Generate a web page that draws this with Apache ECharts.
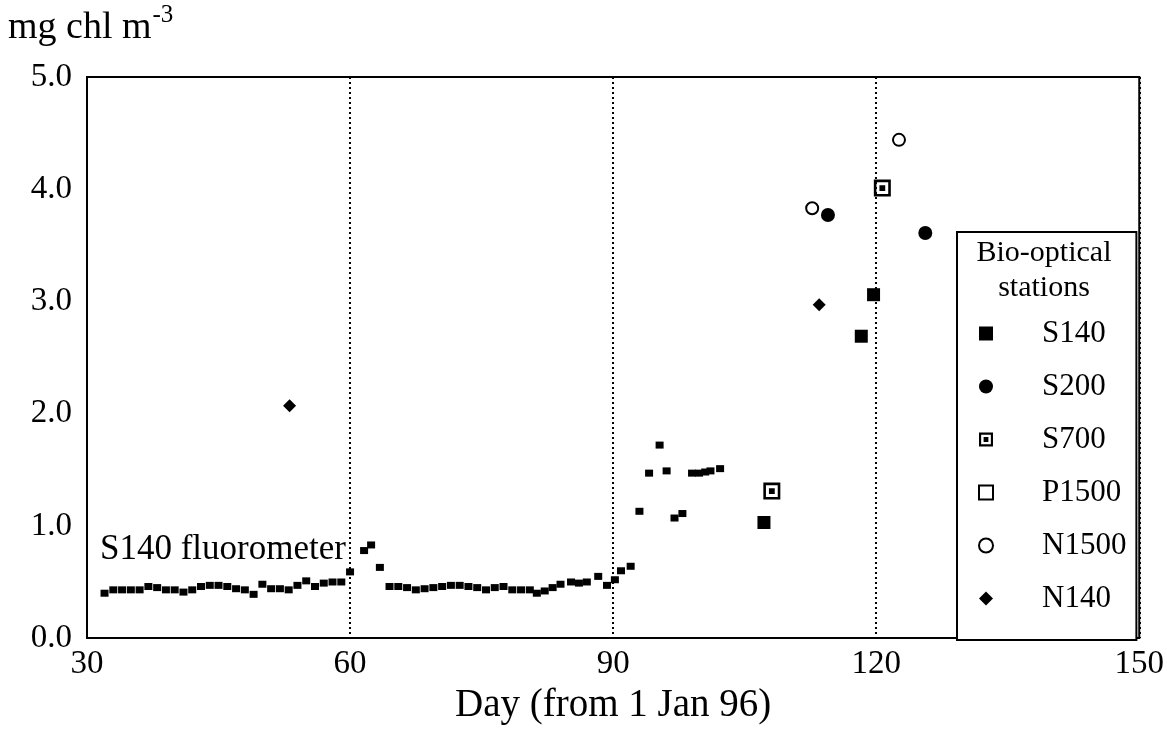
<!DOCTYPE html>
<html>
<head>
<meta charset="utf-8">
<script src="https://cdn.jsdelivr.net/npm/echarts@6/dist/echarts.min.js"></script>
<style>
  html, body { margin: 0; padding: 0; background: #fff; }
  #chart { width: 1167px; height: 730px; }
</style>
</head>
<body>
<div id="chart"></div>
<script>
// S140 fluorometer, [day, mg chl m-3]
var fluoro = [
  [32, 0.40], [33, 0.43], [34, 0.43], [35, 0.43], [36, 0.43], [37, 0.46], [38, 0.45],
  [39, 0.43], [40, 0.43], [41, 0.41], [42, 0.43], [43, 0.46], [44, 0.47], [45, 0.47],
  [46, 0.46], [47, 0.44], [48, 0.43], [49, 0.39], [50, 0.48], [51, 0.44], [52, 0.44],
  [53, 0.43], [54, 0.47], [55, 0.51], [56, 0.46], [57, 0.49], [58, 0.50], [59, 0.50],
  [60, 0.59], [61.6, 0.78], [62.4, 0.83], [63.4, 0.63], [64.5, 0.46], [65.5, 0.46],
  [66.5, 0.45], [67.5, 0.43], [68.5, 0.44], [69.5, 0.45], [70.5, 0.46], [71.5, 0.47],
  [72.5, 0.47], [73.5, 0.46], [74.5, 0.45], [75.5, 0.43], [76.5, 0.45], [77.5, 0.46],
  [78.5, 0.43], [79.5, 0.43], [80.5, 0.43], [81.3, 0.40], [82.2, 0.42], [83.1, 0.45],
  [84, 0.48], [85.2, 0.50], [86.1, 0.49], [87, 0.50], [88.3, 0.55], [89.3, 0.47],
  [90.2, 0.52], [90.9, 0.60], [92, 0.64], [93, 1.13], [94.1, 1.47], [95.3, 1.72],
  [96.1, 1.49], [97, 1.07], [97.9, 1.11], [99, 1.47], [99.8, 1.47], [100.5, 1.48],
  [101.1, 1.49], [102.2, 1.51]
];

// bio-optical stations
var s140 = [[107.2, 1.03], [118.3, 2.69], [119.7, 3.06]];
var s200 = [[114.5, 3.77], [125.6, 3.61]];
var s700 = [[108.1, 1.31], [120.7, 4.01]];
var p1500 = [];
var n1500 = [[112.7, 3.83], [122.6, 4.44]];
var n140 = [[53.1, 2.07], [113.5, 2.97]];

var stationNames = ['S140', 'S200', 'S700', 'P1500', 'N1500', 'N140'];

var serif = 'Liberation Serif';
var ringSquare = 'path://M0,0H17V17H0Z M2.6,2.6V14.4H14.4V2.6Z M5.6,5.6H11.4V11.4H5.6Z';

var chart = echarts.init(document.getElementById('chart'));

var option = {
  animation: false,
  backgroundColor: '#fff',
  grid: {
    left: 87, right: 27, top: 77, bottom: 90,
    show: true, borderColor: '#000', borderWidth: 2
  },
  xAxis: {
    type: 'value',
    min: 30, max: 150, interval: 30,
    name: 'Day (from 1 Jan 96)',
    nameLocation: 'middle',
    nameGap: 39,
    nameTextStyle: { fontFamily: serif, fontSize: 39, color: '#000' },
    axisLine: { lineStyle: { color: '#000', width: 2 } },
    axisTick: { show: false },
    axisLabel: { fontFamily: serif, fontSize: 33, color: '#000', margin: 10 },
    splitLine: { show: true, lineStyle: { color: '#000', width: 2, type: [2, 3] } }
  },
  yAxis: {
    type: 'value',
    min: 0, max: 5, interval: 1,
    axisLine: { show: true, lineStyle: { color: '#000', width: 2 } },
    axisTick: { show: false },
    axisLabel: {
      fontFamily: serif, fontSize: 33, color: '#000', margin: 15,
      formatter: function (v) { return v.toFixed(1); }
    },
    splitLine: { show: false }
  },
  legend: {
    data: stationNames,
    orient: 'vertical',
    left: 957, top: 232,
    padding: [86, 10, 26, 21],
    itemGap: 22,
    itemWidth: 14, itemHeight: 14,
    backgroundColor: '#fff',
    borderColor: '#000', borderWidth: 2,
    selectedMode: false,
    textStyle: {
      fontFamily: serif, fontSize: 31, color: '#000',
      padding: [0, 0, 0, 44], lineHeight: 31
    }
  },
  graphic: [
    {
      type: 'text', left: 8, top: 3,
      style: {
        text: '{a|mg chl m}{b|-3}',
        rich: {
          a: { fontFamily: serif, fontSize: 38, fill: '#000', verticalAlign: 'bottom' },
          b: { fontFamily: serif, fontSize: 25, fill: '#000', padding: [0, 0, 19, 1] }
        }
      }
    },
    {
      type: 'text', left: 100, top: 532,
      style: { text: 'S140 fluorometer', fontFamily: serif, fontSize: 35, fill: '#000' }
    },
    {
      type: 'text', x: 1044, y: 236, z: 100,
      style: {
        text: 'Bio-optical\nstations', fontFamily: serif, fontSize: 30, lineHeight: 35,
        fill: '#000', align: 'center'
      }
    }
  ],
  series: [
    {
      name: 'S140 fluorometer', type: 'scatter', data: fluoro,
      symbol: 'rect', symbolSize: [8, 7],
      itemStyle: { color: '#000', opacity: 1 }
    },
    {
      name: 'S140', type: 'scatter', data: s140,
      symbol: 'rect', symbolSize: 13,
      itemStyle: { color: '#000', opacity: 1 }
    },
    {
      name: 'S200', type: 'scatter', data: s200,
      symbol: 'circle', symbolSize: 14,
      itemStyle: { color: '#000', opacity: 1 }
    },
    {
      name: 'S700', type: 'scatter', data: s700,
      symbol: ringSquare, symbolSize: 17,
      itemStyle: { color: '#000', opacity: 1 }
    },
    {
      name: 'P1500', type: 'scatter', data: p1500,
      symbol: 'rect', symbolSize: 11,
      itemStyle: { color: '#fff', borderColor: '#000', borderWidth: 2, opacity: 1 }
    },
    {
      name: 'N1500', type: 'scatter', data: n1500,
      symbol: 'circle', symbolSize: 12,
      itemStyle: { color: '#fff', borderColor: '#000', borderWidth: 2, opacity: 1 }
    },
    {
      name: 'N140', type: 'scatter', data: n140,
      symbol: 'diamond', symbolSize: 13,
      itemStyle: { color: '#000', opacity: 1 }
    }
  ]
};

chart.setOption(option);
</script>
</body>
</html>
